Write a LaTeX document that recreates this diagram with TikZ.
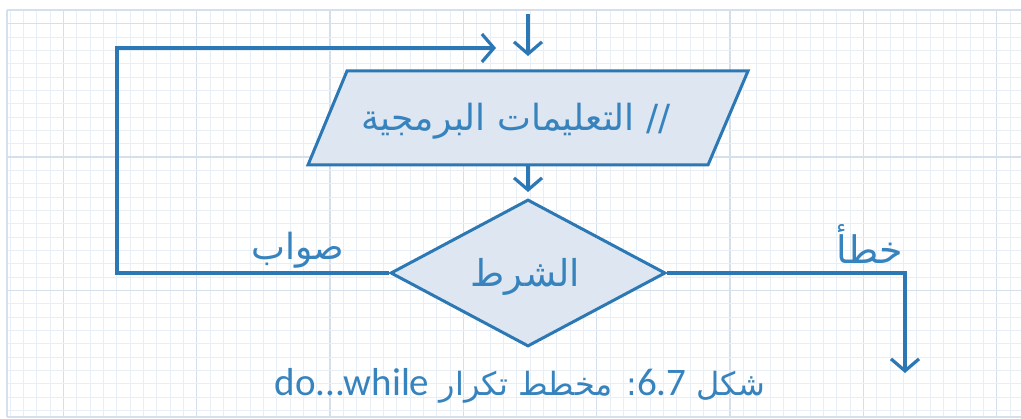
\documentclass[tikz,border=0pt]{standalone}
\usepackage{fontspec}
\usetikzlibrary{arrows.meta,shapes.geometric}
\TeXXeTstate=1
\newfontfamily\arabicfont[Script=Arabic]{DejaVu Sans}
\newfontfamily\latinfont{Carlito}
\definecolor{flow}{HTML}{2B78B4}
\definecolor{txt}{HTML}{3683BE}
\definecolor{boxfill}{HTML}{DDE6F1}
\definecolor{gridminor}{HTML}{E8EEF5}
\definecolor{gridmajor}{HTML}{D6E0EC}
\tikzset{
  conn/.style={draw=flow, line width=3.2pt, -{Straight Barb[length=12pt,width=28pt,line width=3.2pt]}},
  shapebox/.style={draw=flow, fill=boxfill, line width=3pt, line join=miter},
  lbl/.style={text=txt, inner sep=0pt},
}
\begin{document}
\begin{tikzpicture}[x=1pt,y=-1pt]
\useasboundingbox (0,0) rectangle (1021,419);
\fill[white] (0,0) rectangle (1021,419);
% grid
\foreach \k in {-4,...,72} {
  \pgfmathsetmacro{\xx}{63.3+13.333*\k}
  \pgfmathtruncatemacro{\m}{mod(\k+40,10)}
  \ifnum\m=0
    \draw[gridmajor, line width=1.3pt] (\xx,10) -- (\xx,417);
  \else
    \draw[gridminor, line width=0.9pt] (\xx,10) -- (\xx,417);
  \fi
}
\foreach \k in {-1,...,29} {
  \pgfmathsetmacro{\yy}{23.7+13.333*\k}
  \pgfmathtruncatemacro{\m}{mod(\k+40,10)}
  \ifnum\m=0
    \draw[gridmajor, line width=1.3pt] (7,\yy) -- (1021,\yy);
  \else
    \draw[gridminor, line width=0.9pt] (7,\yy) -- (1021,\yy);
  \fi
}
\draw[gridmajor, line width=1.3pt] (7,10) -- (1021,10);
\draw[gridmajor, line width=1.3pt] (7,10) -- (7,417);
\draw[gridmajor, line width=1.3pt] (7,417) -- (1021,417);

% parallelogram
\coordinate (pTL) at (347,71);
\coordinate (pTR) at (748,71);
\coordinate (pBR) at (708,165);
\coordinate (pBL) at (308,165);
\draw[shapebox] (pTL) -- (pTR) -- (pBR) -- (pBL) -- cycle;
\node[lbl, font=\arabicfont\fontsize{36}{42}\selectfont] (instr) at (516,121)
  {\beginR // التعليمات البرمجية\endR};
% diamond
\node[shapebox, diamond, aspect=1.87, minimum width=275pt, minimum height=147pt, inner sep=0pt] (cond) at (528,273) {};
\node[lbl, font=\arabicfont\fontsize{37}{42}\selectfont] (condtext) at (525,277) {\beginR الشرط\endR};

% coordinates
\coordinate (entry) at (528,14);
\coordinate (entryend) at (528,56);
\coordinate (loopcorner1) at (117,273);
\coordinate (loopcorner2) at (117,48);
\coordinate (loopend) at (496,48);
\coordinate (falsecorner) at (905,273);
\coordinate (falseend) at (905,373);
\coordinate (instrB) at (528,165);
\coordinate (condT) at (528,192);

% connectors
\draw[conn] (entry) -- (entryend);
\draw[conn] (instrB) -- (condT);
\draw[conn] (cond.west) -- (loopcorner1) -- (loopcorner2) -- (loopend);
\draw[conn] (cond.east) -- (falsecorner) -- (falseend);

% labels
\node[lbl, font=\arabicfont\fontsize{36}{40}\selectfont] (truelbl) at (298,250) {\beginR صواب\endR};
\node[lbl, font=\arabicfont\fontsize{38}{42}\selectfont] (falselbl) at (870,244) {\beginR خطأ\endR};
\node[lbl, font=\arabicfont\fontsize{32}{36}\selectfont] (caption) at (520,386)
  {\beginR شكل {\latinfont\fontsize{39}{42}\selectfont\beginL 6.7\endL}: مخطط تكرار {\latinfont\fontsize{39}{42}\selectfont\beginL do...while\endL}\endR};
\end{tikzpicture}
\end{document}
